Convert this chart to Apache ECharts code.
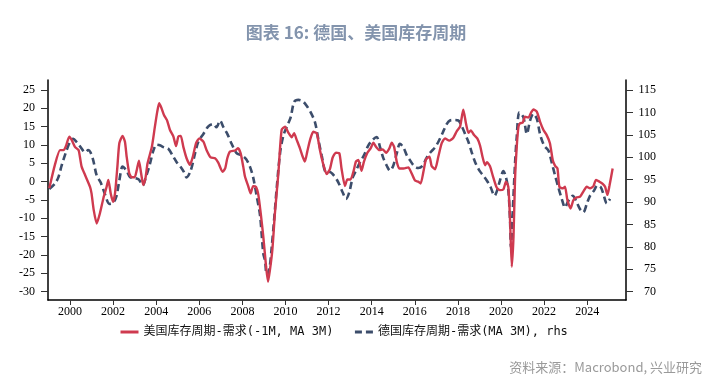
<!DOCTYPE html>
<html>
<head>
<meta charset="utf-8">
<script src="https://cdn.jsdelivr.net/npm/echarts@6/dist/echarts.min.js"></script>
<style>html,body{margin:0;padding:0;background:#fff}#c{width:712px;height:385px}</style>
</head>
<body>
<div id="c"></div>
<script>
const titleText = '图表 16: 德国、美国库存周期';
const sourceText = '资料来源：Macrobond, 兴业研究';
const usName = '美国库存周期-需求(-1M, MA 3M)';
const deName = '德国库存周期-需求(MA 3M), rhs';
const xTicks = [2000,2002,2004,2006,2008,2010,2012,2014,2016,2018,2020,2022,2024];
const leftTicks = [-30,-25,-20,-15,-10,-5,0,5,10,15,20,25];
const rightTicks = [70,75,80,85,90,95,100,105,110,115];

const usDates = [1999.04,1999.3,1999.54,1999.7,1999.8,1999.97,2000.08,2000.23,2000.4,2000.46,2000.54,2000.7,2000.93,2001.0,2001.1,2001.24,2001.39,2001.55,2001.7,2001.78,2001.89,2002.0,2002.09,2002.2,2002.29,2002.44,2002.55,2002.63,2002.75,2002.86,2003.0,2003.1,2003.2,2003.3,2003.4,2003.5,2003.6,2003.8,2003.94,2004.05,2004.14,2004.25,2004.36,2004.5,2004.64,2004.8,2004.92,2005.03,2005.14,2005.26,2005.41,2005.57,2005.7,2005.85,2006.0,2006.19,2006.34,2006.53,2006.73,2006.88,2007.08,2007.2,2007.3,2007.42,2007.66,2007.8,2007.92,2008.04,2008.12,2008.27,2008.38,2008.5,2008.63,2008.74,2008.85,2008.97,2009.1,2009.19,2009.28,2009.39,2009.51,2009.67,2009.82,2009.98,2010.13,2010.29,2010.4,2010.52,2010.67,2010.8,2010.9,2011.01,2011.14,2011.29,2011.45,2011.6,2011.76,2011.91,2012.06,2012.19,2012.34,2012.5,2012.6,2012.76,2012.87,2013.02,2013.15,2013.27,2013.38,2013.53,2013.64,2013.8,2013.95,2014.08,2014.2,2014.36,2014.51,2014.67,2014.82,2014.93,2015.04,2015.16,2015.28,2015.47,2015.7,2015.85,2016.01,2016.16,2016.27,2016.4,2016.52,2016.68,2016.78,2016.94,2017.09,2017.25,2017.4,2017.6,2017.79,2017.95,2018.1,2018.25,2018.38,2018.49,2018.6,2018.75,2018.9,2019.03,2019.15,2019.26,2019.35,2019.49,2019.62,2019.8,2019.95,2020.11,2020.23,2020.34,2020.42,2020.5,2020.58,2020.65,2020.73,2020.81,2020.88,2021.01,2021.11,2021.27,2021.42,2021.5,2021.66,2021.81,2021.97,2022.12,2022.27,2022.4,2022.51,2022.62,2022.71,2022.87,2022.97,2023.08,2023.23,2023.36,2023.51,2023.67,2023.82,2023.98,2024.13,2024.29,2024.41,2024.57,2024.72,2024.83,2024.94,2025.03,2025.18];
const usValues = [-1.8,4.6,8.6,8.6,9.5,12.3,11.4,9.5,8.6,6.8,4.1,1.8,-1.4,-3.2,-7.7,-11.4,-8.6,-4.5,-1.4,0.5,-3.2,-5.5,-3.2,4.1,10.5,12.5,10.9,6.8,2.3,1.2,1.2,3.2,5.7,2.3,-0.9,0.9,5.0,9.5,15.0,19.1,21.4,20.0,18.2,16.8,14.1,12.3,9.7,12.3,12.5,9.5,6.4,4.6,6.8,10.5,11.8,10.9,8.6,6.6,6.4,5.2,2.7,3.6,6.4,8.2,8.5,9.1,7.7,4.1,1.4,-1.2,-3.2,-1.2,-1.4,-3.6,-8.6,-15.0,-23.2,-27.3,-24.0,-18.6,-8.6,2.3,14.1,15.0,13.4,12.1,13.2,11.4,9.1,6.8,5.5,8.2,11.4,13.6,13.2,8.6,4.6,2.1,3.4,6.6,7.9,7.7,3.6,-1.2,0.6,0.6,2.7,5.5,5.9,3.0,5.5,7.9,9.1,10.6,9.5,8.6,8.8,7.9,9.1,10.6,9.5,5.5,3.6,3.6,3.9,2.3,0.3,0.0,-0.5,2.7,6.1,6.8,4.3,3.4,6.8,10.5,11.8,11.2,12.0,13.8,15.0,19.6,15.7,13.3,14.0,12.7,11.8,9.8,6.6,4.5,5.3,4.2,1.6,-1.6,-2.3,-2.1,0.0,-1.4,-10.5,-23.2,-15.0,0.5,9.5,15.0,15.9,16.1,17.7,17.5,19.1,19.7,19.1,16.4,14.1,12.7,10.5,5.9,4.3,3.6,-1.4,-1.8,-1.4,-5.0,-7.3,-5.0,-4.3,-4.1,-2.7,-1.4,-1.8,-1.2,0.5,0.0,-0.6,-1.4,-3.6,-1.2,3.6];

const deDates = [1999.04,1999.3,1999.46,1999.61,1999.81,2000.0,2000.15,2000.31,2000.5,2000.7,2000.85,2000.95,2001.08,2001.24,2001.42,2001.62,2001.83,2002.01,2002.16,2002.29,2002.44,2002.63,2002.8,2003.0,2003.2,2003.37,2003.53,2003.71,2003.87,2004.02,2004.2,2004.36,2004.56,2004.76,2004.95,2005.1,2005.29,2005.41,2005.6,2005.8,2005.95,2006.19,2006.42,2006.65,2006.8,2006.96,2007.12,2007.3,2007.5,2007.73,2007.97,2008.17,2008.35,2008.5,2008.66,2008.82,2008.97,2009.05,2009.13,2009.25,2009.36,2009.47,2009.59,2009.75,2009.9,2010.05,2010.24,2010.4,2010.6,2010.8,2010.98,2011.17,2011.37,2011.52,2011.68,2011.88,2012.06,2012.25,2012.45,2012.65,2012.81,2012.96,2013.12,2013.27,2013.46,2013.64,2013.84,2014.05,2014.23,2014.39,2014.54,2014.7,2014.85,2015.0,2015.16,2015.31,2015.47,2015.63,2015.78,2015.96,2016.16,2016.36,2016.54,2016.73,2016.94,2017.09,2017.29,2017.48,2017.63,2017.82,2018.02,2018.17,2018.35,2018.49,2018.64,2018.8,2019.0,2019.18,2019.37,2019.52,2019.7,2019.82,2019.95,2020.11,2020.23,2020.34,2020.42,2020.46,2020.54,2020.65,2020.73,2020.85,2021.04,2021.2,2021.35,2021.5,2021.66,2021.81,2022.0,2022.2,2022.35,2022.51,2022.66,2022.82,2022.97,2023.13,2023.33,2023.48,2023.67,2023.82,2023.98,2024.13,2024.32,2024.47,2024.63,2024.75,2024.91,2025.06];
const deValues = [92.9,94.1,95.5,98.1,101.1,103.4,104.1,103.4,102.2,101.1,101.6,101.1,99.3,95.9,94.4,91.8,89.6,89.9,91.4,94.8,97.9,97.0,95.5,95.4,95.0,93.7,95.7,98.5,101.5,102.8,102.6,102.2,101.9,100.4,98.9,98.1,96.7,95.5,97.0,100.8,103.4,105.2,106.9,107.4,106.7,108.2,106.7,105.2,103.0,100.9,100.4,99.6,97.9,95.5,91.4,87.0,78.5,77.0,73.8,75.0,79.9,85.9,93.0,101.0,104.8,106.7,108.9,112.3,112.8,112.5,111.5,110.0,107.8,104.1,100.4,96.7,96.7,95.9,94.4,92.2,90.7,92.2,95.5,97.0,98.9,100.4,102.6,103.9,104.5,102.2,99.8,98.1,97.0,98.1,100.8,103.0,102.2,100.4,99.3,98.1,97.6,98.1,99.8,101.1,102.2,103.4,105.4,107.4,108.2,108.3,108.2,107.0,105.0,103.4,101.1,98.9,97.0,95.9,94.6,93.3,91.4,92.6,94.8,96.9,95.5,92.6,85.9,79.9,87.4,98.5,104.5,110.0,108.9,105.2,108.2,109.7,108.6,105.2,102.6,101.5,98.9,95.9,93.3,90.7,88.8,90.3,91.4,90.3,88.4,87.7,89.6,91.4,92.6,93.7,93.3,91.8,89.7,90.7];

const chart = echarts.init(document.getElementById('c'), null, {renderer: 'canvas'});
const serif = "'Liberation Serif', 'Times New Roman', serif";
const mono = "'DejaVu Sans Mono', 'Liberation Mono', 'Noto Sans CJK SC', monospace";
const axisCommon = {
  splitLine: {show: false}
};
chart.setOption({
  animation: false,
  backgroundColor: '#fff',
  title: {
    text: titleText, left: 'center', top: 19,
    textStyle: {color: '#8394ad', fontSize: 17, fontWeight: 'bold', fontFamily: "'Noto Sans CJK SC', sans-serif"}
  },
  legend: {
    left: 114, top: 321, itemWidth: 18, itemHeight: 10, itemGap: 20,
    itemStyle: {opacity: 0},
    lineStyle: {width: 3},
    textStyle: {color: '#111', fontSize: 12, fontFamily: mono},
    data: [usName, deName]
  },
  graphic: [{
    type: 'text', right: 10, top: 361,
    style: {text: sourceText, fill: '#9a9a9a', font: "13px 'Noto Sans CJK SC', sans-serif"}
  }],
  grid: {left: 48, right: 86, top: 80, bottom: 85},
  xAxis: Object.assign({
    type: 'value', min: 1998.98, max: 2025.8,
    axisLine: {show: true, onZero: false, lineStyle: {color: '#000', width: 1.5}},
    axisTick: {show: true, length: 5, customValues: xTicks, lineStyle: {color: '#333'}},
    axisLabel: {customValues: xTicks, color: '#000', fontSize: 12, fontFamily: serif, margin: 6,
      formatter: v => String(Math.round(v))}
  }, axisCommon),
  yAxis: [
    Object.assign({
      type: 'value', position: 'left', min: -32.27, max: 27.73,
      axisLine: {show: true, onZero: false, lineStyle: {color: '#000', width: 1.5}},
      axisTick: {show: true, length: 7, customValues: leftTicks, lineStyle: {color: '#333'}},
      axisLabel: {customValues: leftTicks, color: '#000', fontSize: 12, fontFamily: serif, margin: 13}
    }, axisCommon),
    Object.assign({
      type: 'value', position: 'right', min: 68.15, max: 117.23,
      axisLine: {show: true, onZero: false, lineStyle: {color: '#000', width: 1.5}},
      axisTick: {show: true, length: 7, customValues: rightTicks, lineStyle: {color: '#333'}},
      axisLabel: {customValues: rightTicks, color: '#000', fontSize: 12, fontFamily: serif, margin: 30, align: 'right'}
    }, axisCommon)
  ],
  series: [
    {
      name: deName, type: 'line', yAxisIndex: 1, symbol: 'none', smooth: 0.3, z: 2,
      data: deDates.map((d, i) => [d, deValues[i]]),
      lineStyle: {color: '#3c4d6b', width: 2.6, type: [7, 4]},
      itemStyle: {color: '#3c4d6b'}
    },
    {
      name: usName, type: 'line', yAxisIndex: 0, symbol: 'none', smooth: 0.2, z: 3,
      data: usDates.map((d, i) => [d, usValues[i]]),
      lineStyle: {color: '#cf3a4f', width: 2.4},
      itemStyle: {color: '#cf3a4f'}
    }
  ]
});
</script>
</body>
</html>
